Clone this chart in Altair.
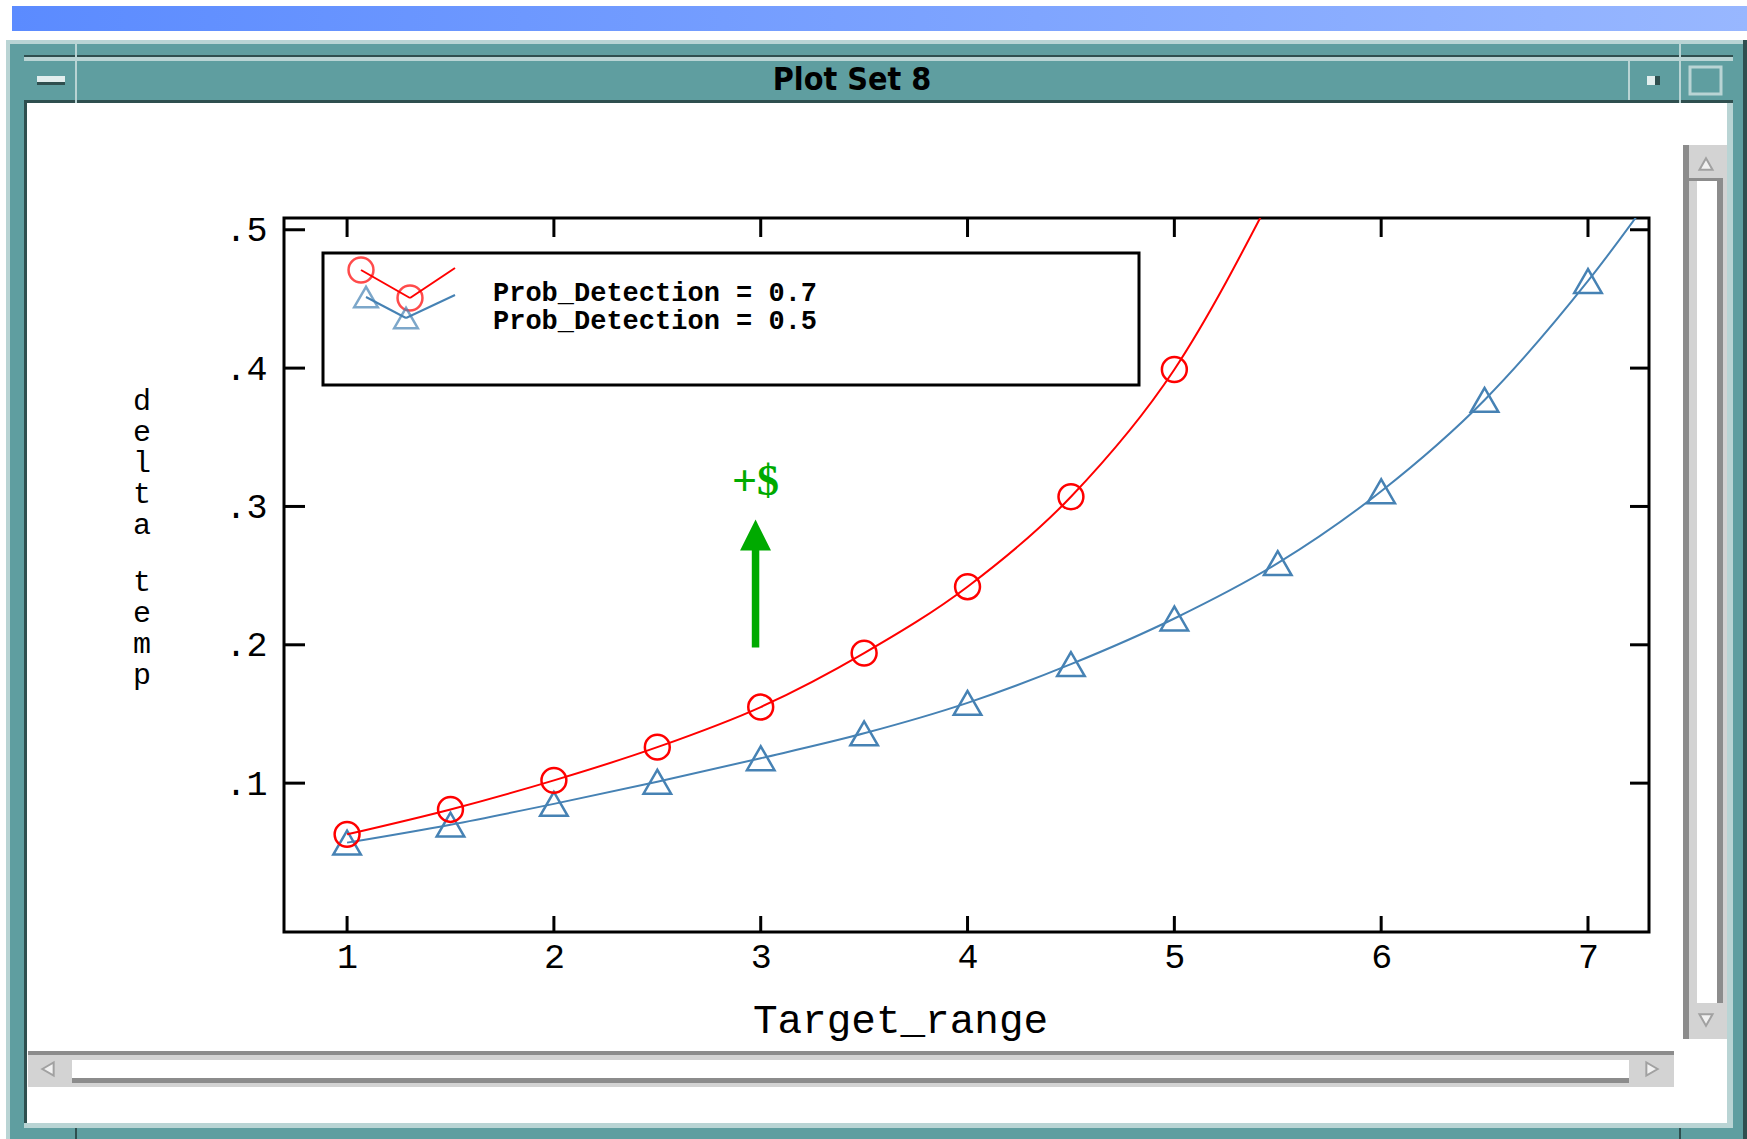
import altair as alt
import pandas as pd

# ---------------------------------------------------------------- data
SERIES = ["Prob_Detection = 0.7", "Prob_Detection = 0.5"]
COLORS = ["#ff0000", "#4682b4"]
SHAPES = ["circle", "triangle-up"]
SIZES = [620, 760]

RANGE_07 = [1, 1.5, 2, 2.5, 3, 3.5, 4, 4.5, 5, 5.5]
DELTA_07 = [0.063, 0.081, 0.102, 0.126, 0.155, 0.194, 0.242, 0.307, 0.399, 0.533]

RANGE_05 = [1, 1.5, 2, 2.5, 3, 3.5, 4, 4.5, 5, 5.5, 6, 6.5, 7, 7.5]
DELTA_05 = [0.057, 0.070, 0.085, 0.101, 0.118, 0.136, 0.158, 0.186, 0.219,
            0.259, 0.311, 0.377, 0.463, 0.565]

X_TICKS = [1, 2, 3, 4, 5, 6, 7]
Y_TICKS = [0.1, 0.2, 0.3, 0.4, 0.5]
X_DOMAIN = [0.695, 7.295]
Y_DOMAIN = [-0.0076, 0.5085]

# "+$" cost annotation with its arrow
ARROW_X = 2.975
ARROW_SHAFT = [0.198, 0.272]
ARROW_HEAD = 0.2793
ARROW_LABEL = "+$"
ARROW_LABEL_Y = 0.3176

WINDOW_TITLE = "Plot Set 8"
X_TITLE = "Target_range"
Y_TITLE = "delta temp"

# ---------------------------------------------------------------- layout
PAGE_W, PAGE_H = 1747, 1139
OX, OY = 284, 218            # top-left corner of the plot frame on the page
W, H = 1365, 714             # plot frame size
MONO = "Liberation Mono"
GREEN = "#00aa00"

TEAL = "#5f9ea0"
TEAL_LIGHT = "#b9d4d4"
TEAL_DARK = "#2f4f4f"
GRAY_DARK = "#8c8c8c"
GRAY_LIGHT = "#d3d3d3"

ONE = alt.Data(values=[{"k": 0}])


def box(x0, y0, x1, y1, fill, **kw):
    return alt.Chart(ONE).mark_rect(fill=fill, **kw).encode(
        x=alt.value(x0 - OX), x2=alt.value(x1 - OX),
        y=alt.value(y0 - OY), y2=alt.value(y1 - OY))


def glyph(x, y, shape, size, **kw):
    return alt.Chart(ONE).mark_point(shape=shape, size=size, **kw).encode(
        x=alt.value(x - OX), y=alt.value(y - OY))


def seg(x0, y0, x1, y1, color, width=2):
    return alt.Chart(ONE).mark_rule(color=color, strokeWidth=width).encode(
        x=alt.value(x0 - OX), x2=alt.value(x1 - OX),
        y=alt.value(y0 - OY), y2=alt.value(y1 - OY))


def label(x, y, text, **kw):
    return alt.Chart(ONE).mark_text(text=text, **kw).encode(
        x=alt.value(x - OX), y=alt.value(y - OY))


# ---------------------------------------------------------------- scales / axes
x_axis = alt.Axis(
    values=X_TICKS, format="d", title=X_TITLE, grid=False, domain=False,
    ticks=False, tickSize=0, labelFont=MONO, labelFontSize=35,
    labelColor="black", labelPadding=24, labelBaseline="middle",
    labelFlush=False, titleFont=MONO, titleFontSize=41,
    titleFontWeight="normal", titleColor="black", titleX=616, titleY=88,
    titleBaseline="middle", titleAlign="center", zindex=2)

y_axis = alt.Axis(
    values=Y_TICKS, labelExpr="substring(format(datum.value, '.1f'), 1)",
    title=None, grid=False,
    domain=False, ticks=False, tickSize=0, labelFont=MONO, labelFontSize=35,
    labelColor="black", labelPadding=17, labelFlush=False, zindex=2)

X = alt.X("range:Q", scale=alt.Scale(domain=X_DOMAIN, nice=False, zero=False),
          axis=x_axis)
Y = alt.Y("delta:Q", scale=alt.Scale(domain=Y_DOMAIN, nice=False, zero=False),
          axis=y_axis)

# ---------------------------------------------------------------- window chrome
gradient = alt.Gradient(
    gradient="linear", x1=0, x2=1, y1=0, y2=0,
    stops=[alt.GradientStop(color="#5b8bff", offset=0),
           alt.GradientStop(color="#98b7ff", offset=1)])

chrome = [
    box(12, 6, 1747, 31, gradient),
    box(6, 40, 1747, 1139, TEAL),
    box(6, 40, 1747, 44, TEAL_LIGHT),
    box(6, 40, 10, 1139, TEAL_LIGHT),
    box(1743, 40, 1747, 1139, TEAL_DARK),
    box(24, 55, 1733, 57, TEAL_DARK),
    box(24, 57, 1733, 61, TEAL_LIGHT),
    box(24, 100, 1733, 103, TEAL_DARK),
    box(24, 103, 27, 1123, TEAL_DARK),
    box(1727, 103, 1733, 1128, TEAL_LIGHT),
    box(27, 103, 1727, 1123, "white"),
    box(24, 1123, 1733, 1128, TEAL_LIGHT),
    box(75, 43, 77, 103, TEAL_LIGHT),
    box(1628, 61, 1630, 100, TEAL_LIGHT),
    box(1679, 43, 1681, 103, TEAL_LIGHT),
    box(75, 1128, 77, 1139, TEAL_DARK),
    box(1679, 1128, 1681, 1139, TEAL_DARK),
    # title bar buttons
    box(37, 76, 65, 85, "#e2eeee"),
    box(37, 82, 65, 85, TEAL_DARK),
    box(1647, 76, 1660, 85, "#e2eeee"),
    box(1655, 76, 1660, 85, TEAL_DARK),
    box(1690, 67, 1721, 94, TEAL, stroke=TEAL_LIGHT, strokeWidth=3),
    label(852, 80, WINDOW_TITLE, font="DejaVu Sans Condensed, Liberation Sans",
          fontSize=32, fontWeight="bold", color="black", align="center",
          baseline="middle"),
    # vertical scrollbar
    box(1683, 145, 1727, 1039, GRAY_LIGHT),
    box(1683, 145, 1689, 1039, GRAY_DARK),
    box(1697, 181, 1717, 1003, "white"),
    box(1717, 181, 1723, 1003, GRAY_DARK),
    box(1689, 178, 1723, 181, GRAY_DARK),
    box(1689, 1003, 1723, 1006, GRAY_LIGHT),
    glyph(1706, 164, "triangle-up", 170, filled=True, fill="white",
          stroke=GRAY_DARK, strokeWidth=2),
    glyph(1706, 1020, "triangle-down", 170, filled=True, fill="white",
          stroke=GRAY_DARK, strokeWidth=2),
    # horizontal scrollbar
    box(28, 1051, 1674, 1087, GRAY_LIGHT),
    box(28, 1051, 1674, 1055, GRAY_DARK),
    box(72, 1060, 1629, 1078, "white"),
    box(72, 1078, 1629, 1083, GRAY_DARK),
    glyph(48, 1069, "triangle-left", 170, filled=True, fill="white",
          stroke=GRAY_DARK, strokeWidth=2),
    glyph(1652, 1069, "triangle-right", 170, filled=True, fill="white",
          stroke=GRAY_DARK, strokeWidth=2),
]

# ---------------------------------------------------------------- y title, stacked letter by letter
y_words = Y_TITLE.split(" ")
y_title = [
    label(142, 386, "\n".join(y_words[0]), font=MONO, fontSize=30,
          lineHeight=31, lineBreak="\n", color="black", align="center",
          baseline="top"),
    label(142, 567, "\n".join(y_words[1]), font=MONO, fontSize=30,
          lineHeight=31, lineBreak="\n", color="black", align="center",
          baseline="top"),
]

# ---------------------------------------------------------------- frame and inward ticks
frame = box(OX, OY, OX + W, OY + H, "white", fillOpacity=0, stroke="black",
            strokeWidth=3)

xt = pd.DataFrame({"range": X_TICKS})
yt = pd.DataFrame({"delta": Y_TICKS})
tick = dict(color="black", strokeWidth=3)
ticks = [
    alt.Chart(xt).mark_rule(**tick).encode(x=X, y=alt.value(0), y2=alt.value(19)),
    alt.Chart(xt).mark_rule(**tick).encode(x=X, y=alt.value(H - 16), y2=alt.value(H)),
    alt.Chart(yt).mark_rule(**tick).encode(y=Y, x=alt.value(0), x2=alt.value(21)),
    alt.Chart(yt).mark_rule(**tick).encode(y=Y, x=alt.value(W - 19), x2=alt.value(W)),
]

# ---------------------------------------------------------------- legend box
legend = [
    box(323, 253, 1139, 385, "white", fillOpacity=0, stroke="black", strokeWidth=3),
    seg(361, 270, 410, 298, COLORS[0]), seg(410, 298, 455, 268, COLORS[0]),
    seg(366, 297, 406, 318, COLORS[1]), seg(406, 318, 455, 295, COLORS[1]),
    glyph(361, 270, SHAPES[0], SIZES[0], color=COLORS[0], strokeWidth=2.5),
    glyph(410, 298, SHAPES[0], SIZES[0], color=COLORS[0], strokeWidth=2.5),
    glyph(366, 297, SHAPES[1], 560, color=COLORS[1], strokeWidth=2.5),
    glyph(406, 318, SHAPES[1], 560, color=COLORS[1], strokeWidth=2.5),
    label(493, 293, SERIES[0], font=MONO, fontSize=27, fontWeight="bold",
          color="black", align="left", baseline="middle"),
    label(493, 321, SERIES[1], font=MONO, fontSize=27, fontWeight="bold",
          color="black", align="left", baseline="middle"),
]

# ---------------------------------------------------------------- series
series_layers = []
for name, xs, ys, col, shp, sz in [
        (SERIES[1], RANGE_05, DELTA_05, COLORS[1], SHAPES[1], SIZES[1]),
        (SERIES[0], RANGE_07, DELTA_07, COLORS[0], SHAPES[0], SIZES[0])]:
    df = pd.DataFrame({"range": xs, "delta": ys, "series": name})
    base = alt.Chart(df).encode(x=X, y=Y)
    series_layers.append(base.mark_line(color=col, strokeWidth=2, clip=True,
                                        interpolate="monotone"))
    series_layers.append(base.mark_point(shape=shp, size=sz, filled=False,
                                         color=col, strokeWidth=2.5, opacity=1,
                                         clip=True))

# ---------------------------------------------------------------- arrow annotation
shaft_df = pd.DataFrame({"range": [ARROW_X], "delta": [ARROW_SHAFT[0]],
                         "delta2": [ARROW_SHAFT[1]]})
head_df = pd.DataFrame({"range": [ARROW_X], "delta": [ARROW_HEAD]})
text_df = pd.DataFrame({"range": [ARROW_X], "delta": [ARROW_LABEL_Y]})
arrow = [
    alt.Chart(shaft_df).mark_rule(color=GREEN, strokeWidth=7.5).encode(
        x=X, y=Y, y2="delta2:Q"),
    alt.Chart(head_df).mark_point(shape="M0,-1L1,1L-1,1Z", size=961,
                                  filled=True, color=GREEN, opacity=1).encode(x=X, y=Y),
    alt.Chart(text_df).mark_text(text=ARROW_LABEL, font="Liberation Serif",
                                 fontSize=44, fontWeight="bold", color=GREEN,
                                 baseline="middle", align="center").encode(x=X, y=Y),
]

chart = alt.layer(*chrome, *y_title, frame, *ticks, *legend, *series_layers,
                  *arrow).properties(
    width=W, height=H,
    autosize=alt.AutoSizeParams(type="none"),
    padding={"left": OX, "top": OY, "right": PAGE_W - OX - W,
             "bottom": PAGE_H - OY - H},
    background="white",
).configure_view(strokeWidth=0)

chart.save("out.html", embed_options={"renderer": "svg", "actions": False})
